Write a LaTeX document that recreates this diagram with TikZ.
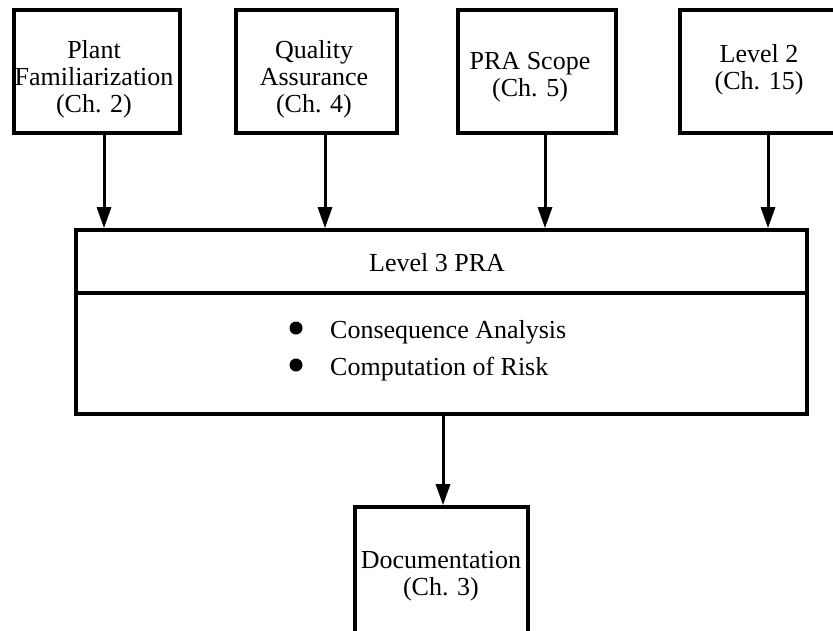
\documentclass[tikz,border=0pt]{standalone}
\usepackage{fontspec}
\setmainfont{Liberation Serif}
\usetikzlibrary{arrows.meta}
\begin{document}
\begin{tikzpicture}[x=1pt,y=-1pt,
  every node/.style={font=\fontsize{26}{27}\selectfont},
  stepbox/.style={draw, line width=3.6pt, inner sep=0pt},
  label/.style={align=center, inner sep=0pt},
  flow/.style={line width=3pt, -{Triangle[length=21pt,width=14pt]}},
  dot/.style={circle, fill, inner sep=0pt, minimum size=13pt}]
  % page frame
  \fill[white] (0,0) rectangle (833,630);
  \clip (0,0) rectangle (833,630);

  % input boxes
  \node[stepbox, minimum width=166pt, minimum height=123pt] (b1) at (97,71.5) {};
  \node[stepbox, minimum width=161pt, minimum height=123pt] (b2) at (316.5,71.5) {};
  \node[stepbox, minimum width=158pt, minimum height=123pt] (b3) at (537,71.5) {};
  \node[stepbox, minimum width=160pt, minimum height=123pt] (b4) at (760,71.5) {};
  \node[label] (t1) at (94,79) {Plant\\Familiarization\\(Ch. 2)};
  \node[label] (t2) at (314,79) {Quality\\Assurance\\(Ch. 4)};
  \node[label] (t3) at (530,77) {PRA Scope\\(Ch. 5)};
  \node[label] (t4) at (759,70) {Level 2\\(Ch. 15)};

  % central analysis box
  \node[stepbox, minimum width=731pt, minimum height=184pt] (big) at (441.5,322) {};
  \coordinate (split) at (0,293);
  \draw[line width=3.6pt] (big.west |- split) -- (big.east |- split);
  \node[anchor=base, inner sep=0pt] (title) at (437,271) {Level 3 PRA};
  \node[dot] (d1) at (296,328) {};
  \node[dot] (d2) at (296,365) {};
  \node[anchor=base west, inner sep=0pt] (i1) at (330,338) {Consequence Analysis};
  \node[anchor=base west, inner sep=0pt] (i2) at (330,375) {Computation of Risk};

  % output box
  \node[stepbox, minimum width=173pt, minimum height=143pt] (doc) at (441.5,578.5) {};
  \node[label] (t5) at (441,576) {Documentation\\(Ch. 3)};

  % connectors
  \coordinate (x1) at (104,0);
  \coordinate (x2) at (325,0);
  \coordinate (x3) at (545,0);
  \coordinate (x4) at (768,0);
  \coordinate (x5) at (443,0);
  \draw[flow] (b1.south -| x1) -- (big.north -| x1);
  \draw[flow] (b2.south -| x2) -- (big.north -| x2);
  \draw[flow] (b3.south -| x3) -- (big.north -| x3);
  \draw[flow] (b4.south -| x4) -- (big.north -| x4);
  \draw[flow] (big.south -| x5) -- (doc.north -| x5);
\end{tikzpicture}
\end{document}
